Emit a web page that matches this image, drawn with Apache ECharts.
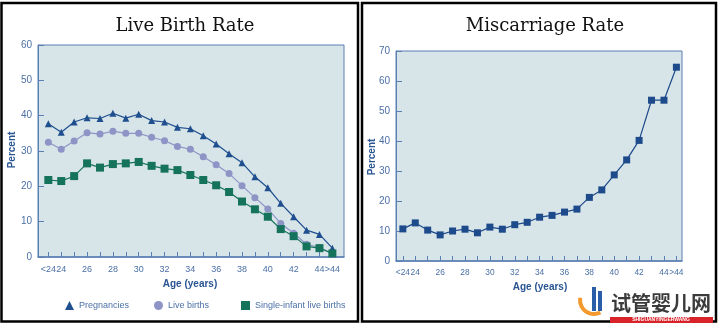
<!DOCTYPE html>
<html><head><meta charset="utf-8">
<script src="https://cdn.jsdelivr.net/npm/echarts@6/dist/echarts.min.js"></script>
<style>html,body{margin:0;padding:0;background:#fff}#c{width:720px;height:328px}</style>
</head><body><div id="c"></div>
<script>
const ageLabels = ['<24','24','25','26','27','28','29','30','31','32','33','34','35','36','37','38','39','40','41','42','43','44','>44'];
const labeledAges = [0,1,3,5,7,9,11,13,15,17,19,21,22];
const pregnancies = [37.7,35.3,38.2,39.4,39.2,40.7,39.3,40.4,38.6,38.2,36.7,36.3,34.3,32.0,29.2,26.7,22.7,19.6,15.2,11.4,7.6,6.4,2.5];
const liveBirths = [32.5,30.5,32.8,35.2,34.8,35.6,35.0,35.0,33.9,32.9,31.3,30.5,28.4,26.1,23.6,20.2,16.8,13.6,9.5,6.7,3.6,2.7,1.0];
const singleInfant = [21.8,21.5,22.9,26.5,25.3,26.3,26.5,26.9,25.8,25.0,24.6,23.2,21.8,20.3,18.4,15.7,13.5,11.4,7.9,5.9,3.0,2.5,1.0];
const miscarriage = [10.7,12.7,10.3,8.7,10.0,10.6,9.4,11.3,10.6,12.1,12.9,14.6,15.2,16.3,17.3,21.2,23.7,28.7,33.7,40.2,53.6,53.6,64.6];

const pairs = a => a.map((v, i) => [i, v]);
const axisBlue = '#5a7fb3';
const labelBlue = '#4c70a6';
const nameBlue = '#2a5593';
const allTicks = ageLabels.map((_, i) => i);

function xAx(gi, min, max, fs) {
  return {
    type: 'value', gridIndex: gi, min: min, max: max,
    axisLine: {show: true, onZero: false, lineStyle: {color: axisBlue, width: 1.5}},
    axisTick: {show: true, inside: true, length: 5, customValues: allTicks, lineStyle: {color: axisBlue}},
    axisLabel: {customValues: labeledAges, formatter: v => ageLabels[Math.round(v)], color: labelBlue, fontSize: fs, margin: 8,
      fontFamily: 'Liberation Sans', showMinLabel: true, showMaxLabel: true, hideOverlap: false},
    splitLine: {show: false}
  };
}
function yAx(gi, max) {
  return {
    type: 'value', gridIndex: gi, min: 0, max: max, interval: 10,
    axisLine: {show: true, onZero: false, lineStyle: {color: axisBlue}},
    axisTick: {show: true, inside: true, length: 6, lineStyle: {color: axisBlue}},
    axisLabel: {color: labelBlue, fontSize: 10, margin: 6, fontFamily: 'Liberation Sans'},
    splitLine: {show: false}
  };
}
const lineS = (name, data, color, symbol, size, xi) => ({
  name: name, type: 'line', xAxisIndex: xi, yAxisIndex: xi, data: pairs(data),
  symbol: symbol, symbolSize: size, itemStyle: {color: color},
  lineStyle: {color: color, width: 1.2}, animation: false
});
const legendStyle = {color: labelBlue, fontSize: 9, fontFamily: 'Liberation Sans'};

const chart = echarts.init(document.getElementById('c'), null, {renderer: 'canvas'});
chart.setOption({
  animation: false,
  grid: [
    {left: 38, top: 45, width: 306, height: 212, show: true, backgroundColor: '#d7e4e8', borderColor: axisBlue, borderWidth: 1},
    {left: 396, top: 51, width: 286, height: 210, show: true, backgroundColor: '#d7e4e8', borderColor: axisBlue, borderWidth: 1}
  ],
  xAxis: [xAx(0, -0.8, 22.9, 9), xAx(1, -0.55, 22.45, 8.4)],
  yAxis: [yAx(0, 60), yAx(1, 70)],
  legend: [
    {data: [{name: 'Pregnancies', icon: 'triangle'}], left: 60, top: 296, itemWidth: 9, itemHeight: 9, textStyle: legendStyle},
    {data: [{name: 'Live births', icon: 'circle'}], left: 149, top: 296, itemWidth: 9, itemHeight: 9, textStyle: legendStyle},
    {data: [{name: 'Single-infant live births', icon: 'rect'}], left: 236, top: 296, itemWidth: 9, itemHeight: 9, textStyle: legendStyle}
  ],
  series: [
    lineS('Pregnancies', pregnancies, '#1f4f8f', 'triangle', 7, 0),
    lineS('Live births', liveBirths, '#8f94c6', 'circle', 7, 0),
    lineS('Single-infant live births', singleInfant, '#16735b', 'rect', 8, 0),
    lineS('Miscarriage', miscarriage, '#1d4a8a', 'rect', 7, 1)
  ],
  graphic: [
    {type: 'rect', shape: {x: 1.5, y: 3, width: 356.5, height: 318.5}, style: {fill: null, stroke: '#000', lineWidth: 2.5}, z: 10},
    {type: 'rect', shape: {x: 362, y: 3, width: 354, height: 318.5}, style: {fill: null, stroke: '#000', lineWidth: 2.5}, z: 10},
    {type: 'text', x: 185, y: 26, style: {text: 'Live Birth Rate', font: '18px "DejaVu Serif"', fill: '#111', align: 'center', verticalAlign: 'middle'}},
    {type: 'text', x: 545, y: 26, style: {text: 'Miscarriage Rate', font: '18px "DejaVu Serif"', fill: '#111', align: 'center', verticalAlign: 'middle'}},
    {type: 'text', x: 12, y: 150, rotation: Math.PI / 2, style: {text: 'Percent', font: 'bold 10px "Liberation Sans"', fill: nameBlue, align: 'center', verticalAlign: 'middle'}},
    {type: 'text', x: 372, y: 157, rotation: Math.PI / 2, style: {text: 'Percent', font: 'bold 10px "Liberation Sans"', fill: nameBlue, align: 'center', verticalAlign: 'middle'}},
    {type: 'text', x: 190, y: 284, style: {text: 'Age (years)', font: 'bold 10px "Liberation Sans"', fill: nameBlue, align: 'center', verticalAlign: 'middle'}},
    {type: 'text', x: 540, y: 287, style: {text: 'Age (years)', font: 'bold 10px "Liberation Sans"', fill: nameBlue, align: 'center', verticalAlign: 'middle'}},
    {type: 'arc', shape: {cx: 594, cy: 300, r: 14, startAngle: Math.PI * 0.35, endAngle: Math.PI * 1.05}, style: {stroke: '#f29a2e', lineWidth: 4, fill: null}, z: 20},
    {type: 'rect', shape: {x: 592, y: 287, width: 4, height: 24}, style: {fill: '#2b5ea8'}, z: 20},
    {type: 'rect', shape: {x: 598, y: 291, width: 4, height: 20}, style: {fill: '#2b5ea8'}, z: 20},
    {type: 'text', x: 661, y: 303, style: {text: '试管婴儿网', font: 'bold 20px "Noto Sans CJK SC"', fill: '#3b3b3b', align: 'center', verticalAlign: 'middle'}, z: 20},
    {type: 'rect', shape: {x: 610, y: 317, width: 103, height: 6}, style: {fill: '#d9232a'}, z: 20},
    {type: 'text', x: 661, y: 320, style: {text: 'SHIGUANYINGERWANG', font: 'bold 5px "Liberation Sans"', fill: '#fff', align: 'center', verticalAlign: 'middle'}, z: 21}
  ]
});
</script></body></html>
